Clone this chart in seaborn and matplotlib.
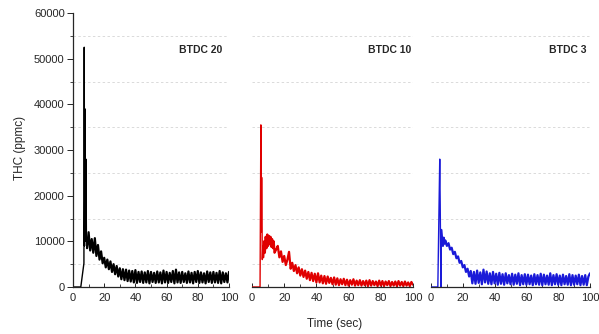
import matplotlib
matplotlib.use("Agg")
import matplotlib.pyplot as plt
import seaborn as sns
import pandas as pd
from matplotlib.ticker import MultipleLocator

# ---------------- data ----------------
panel_labels = ["BTDC 20", "BTDC 10", "BTDC 3"]
colors = ["black", "#e00000", "#1a1ad8"]

# BTDC 20 (black)
t_btdc20 = [0, 5, 6, 7, 7.2, 7.4, 7.7, 8.0, 8.3, 8.6, 9.0,
            10, 11, 12, 13, 14, 15, 16, 17, 18, 19, 20, 21, 22, 23, 24, 25, 26, 27, 28, 29,
            30, 31, 32, 33, 34, 35, 36, 37, 38, 39, 40, 41, 42, 43, 44, 45, 46, 47, 48, 49,
            50, 51, 52, 53, 54, 55, 56, 57, 58, 59, 60, 61, 62, 63, 64, 65, 66, 67, 68, 69,
            70, 71, 72, 73, 74, 75, 76, 77, 78, 79, 80, 81, 82, 83, 84, 85, 86, 87, 88, 89,
            90, 91, 92, 93, 94, 95, 96, 97, 98, 99, 100]
thc_btdc20 = [0, 0, 2600, 5200, 52500, 9000, 39000, 10000, 28000, 11000, 8500,
              12000, 8000, 10500, 7500, 10700, 6800, 9200, 6000, 7800, 5200,
              6400, 4300, 6000, 3900, 5600, 3300, 5000, 2800, 4600, 2300,
              4100, 1700, 3900, 1500, 3800, 1300, 3600, 1200, 3500, 1000,
              3700, 900, 3300, 1100, 3400, 900, 3200, 1000, 3500, 800,
              3300, 1100, 3100, 900, 3400, 1000, 3200, 800, 3600, 1000,
              3300, 900, 3100, 1100, 3500, 800, 3800, 1000, 3200, 900,
              3300, 1100, 3000, 900, 3400, 1000, 3100, 800, 3300, 1100,
              3500, 900, 3200, 1000, 3000, 800, 3400, 1100, 3200, 900,
              3300, 1000, 3100, 900, 3500, 800, 3200, 1100, 3000, 1000, 3300]

# BTDC 10 (red)
t_btdc10 = [0, 5.0, 5.5, 5.8, 6.0, 6.4, 6.7, 7.0, 7.5, 8.0, 8.5, 9.0, 9.5, 10.0, 10.5,
            11.0, 11.5, 12.0, 12.5, 13.0, 13.5, 14.0, 15.0,
            16, 17, 18, 19, 20, 21, 22, 23, 24, 25, 26, 27, 28, 29,
            30, 31, 32, 33, 34, 35, 36, 37, 38, 39, 40, 41, 42, 43, 44, 45, 46, 47, 48, 49,
            50, 51, 52, 53, 54, 55, 56, 57, 58, 59, 60, 61, 62, 63, 64, 65, 66, 67, 68, 69,
            70, 71, 72, 73, 74, 75, 76, 77, 78, 79, 80, 81, 82, 83, 84, 85, 86, 87, 88, 89,
            90, 91, 92, 93, 94, 95, 96, 97, 98, 99, 100]
thc_btdc10 = [0, 0, 35500, 12000, 24000, 6000, 9000, 6500, 10000, 7500, 11000, 8500,
              11500, 9000, 11200, 9500, 11000, 8800, 10500, 8500, 10000, 7500, 8200,
              9000, 6500, 7800, 5500, 6800, 4800, 6000, 7700, 4000, 5300, 3500, 4800, 3000, 4300,
              2500, 3900, 2200, 3600, 1800, 3300, 1500, 3100, 1300, 2900,
              1000, 3000, 1000, 2500, 800, 2400, 700, 2300, 900, 2000,
              600, 2100, 500, 1900, 400, 1700, 600, 1800, 400, 1600,
              300, 1500, 500, 1700, 300, 1400, 400, 1500, 300, 1300,
              400, 1400, 200, 1500, 300, 1300, 400, 1200, 200, 1400,
              300, 1300, 200, 1200, 400, 1300, 200, 1100, 300, 1200,
              200, 1300, 300, 1100, 200, 1200, 300, 1000, 200, 1100, 500]

# BTDC 3 (blue)
t_btdc3 = [0, 4.3, 5.5, 5.8, 6.2, 6.5, 7.0, 7.5, 8.0, 8.5, 9.0,
           10, 11, 12, 13, 14, 15, 16, 17, 18, 19, 20, 21, 22, 23, 24, 25, 26, 27, 28, 29,
           30, 31, 32, 33, 34, 35, 36, 37, 38, 39, 40, 41, 42, 43, 44, 45, 46, 47, 48, 49,
           50, 51, 52, 53, 54, 55, 56, 57, 58, 59, 60, 61, 62, 63, 64, 65, 66, 67, 68, 69,
           70, 71, 72, 73, 74, 75, 76, 77, 78, 79, 80, 81, 82, 83, 84, 85, 86, 87, 88, 89,
           90, 91, 92, 93, 94, 95, 96, 97, 98, 99, 100]
thc_btdc3 = [0, 0, 28000, 18000, 0, 12500, 10500, 9000, 10800, 9500, 10200,
             9000, 9600, 8200, 8600, 7200, 7700, 6300, 6700, 5300, 5700,
             4300, 4800, 3300, 4000, 2300, 3500, 800, 3300, 700, 3600,
             900, 3200, 600, 3800, 1000, 3400, 700, 3000, 600, 3300,
             800, 2900, 500, 3100, 700, 2800, 500, 3000, 800, 2600,
             600, 2900, 500, 2700, 700, 3000, 400, 2600, 600, 2800,
             500, 2700, 600, 2500, 400, 2800, 600, 2600, 500, 2900,
             400, 2700, 600, 2500, 500, 3000, 400, 2600, 600, 2800,
             500, 2500, 400, 2700, 600, 2400, 500, 2800, 400, 2600,
             500, 2500, 600, 2700, 400, 2400, 500, 2600, 400, 2300, 3000]

series_t = [t_btdc20, t_btdc10, t_btdc3]
series_y = [thc_btdc20, thc_btdc10, thc_btdc3]
# time after which the trace is a noisy band (drawn heavier)
band_start = [9.0, 7.0, 6.5]

y_ticks = [0, 10000, 20000, 30000, 40000, 50000, 60000]
x_ticks = [0, 20, 40, 60, 80, 100]
grid_levels = [5000, 15000, 25000, 35000, 45000, 55000]

# ---------------- figure ----------------
sns.set_style("ticks")
plt.rcParams["font.family"] = ["Liberation Sans", "DejaVu Sans"]

W, H = 599, 334
fig = plt.figure(figsize=(W / 100, H / 100), dpi=100)

# panel pixel boxes (left, right); y from 13 (top) to 287 (bottom)
boxes = [(73, 229), (252, 413), (431, 590)]
top_px, bot_px = 13, 287

label_pos = [0.955, 0.99, 0.98]

for i, (l, r) in enumerate(boxes):
    ax = fig.add_axes([l / W, (H - bot_px) / H, (r - l) / W, (bot_px - top_px) / H])
    df = pd.DataFrame({"Time": series_t[i], "THC": series_y[i]})
    for g in grid_levels:
        ax.axhline(g, color="#dadada", lw=0.7, ls=(0, (2.5, 2.5)), zorder=0)
    spike = df[df["Time"] <= band_start[i]]
    band = df[df["Time"] >= band_start[i]]
    sns.lineplot(data=spike, x="Time", y="THC", ax=ax, color=colors[i], lw=1.0,
                 sort=False, estimator=None)
    sns.lineplot(data=band, x="Time", y="THC", ax=ax, color=colors[i], lw=1.6,
                 sort=False, estimator=None)
    ax.set_xlim(0, 100)
    ax.set_ylim(0, 60000)
    ax.set_xlabel("")
    ax.set_ylabel("")
    ax.set_xticks(x_ticks)
    ax.xaxis.set_minor_locator(MultipleLocator(10))
    ax.tick_params(axis="x", which="major", direction="in", length=3, width=0.7,
                   labelsize=8, pad=4)
    ax.tick_params(axis="x", which="minor", direction="in", length=2, width=0.6)
    ax.spines["top"].set_visible(False)
    ax.spines["right"].set_visible(False)
    ax.spines["bottom"].set_linewidth(0.9)
    if i == 0:
        ax.set_yticks(y_ticks)
        ax.yaxis.set_minor_locator(MultipleLocator(5000))
        ax.tick_params(axis="y", which="major", direction="out", length=4, width=0.7,
                       labelsize=8, pad=2)
        ax.tick_params(axis="y", which="minor", direction="out", length=2, width=0.6)
        ax.spines["left"].set_linewidth(0.9)
    else:
        ax.set_yticks([])
        ax.spines["left"].set_visible(False)
    ax.text(label_pos[i], 0.865, panel_labels[i], transform=ax.transAxes,
            ha="right", va="center", fontsize=7.5, fontweight="bold")
    ax.set_facecolor("none")

fig.text(20 / W, 1 - 148 / H, "THC (ppmc)", rotation=90, ha="center", va="center",
         fontsize=8.5)
fig.text(335 / W, 1 - 324 / H, "Time (sec)", ha="center", va="center", fontsize=8.5)

fig.savefig("out.png", dpi=100)
